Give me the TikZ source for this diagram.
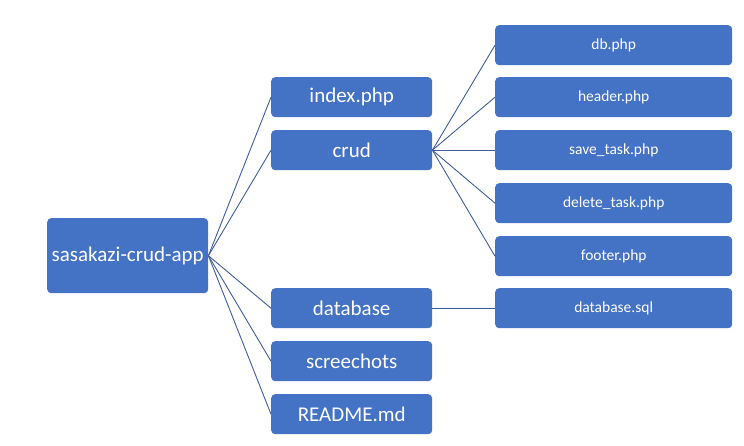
\documentclass[tikz,border=0pt]{standalone}
\usepackage{fontspec}
\setmainfont{Carlito}
\begin{document}
\begin{tikzpicture}[x=1pt,y=-1pt,
  box/.style={draw=none,fill=boxblue,rounded corners=4pt,text=white,inner sep=0pt,anchor=north west},
  lvone/.style={box,minimum width=161pt,minimum height=40pt,font=\fontsize{21}{24}\selectfont},
  lvtwo/.style={box,minimum width=237pt,minimum height=40pt,font=\fontsize{15.5}{18}\selectfont},
  link/.style={draw=lineblue,line width=0.9pt}]
\definecolor{boxblue}{HTML}{4472C4}
\definecolor{lineblue}{HTML}{3F5C9A}
\useasboundingbox (0,0) rectangle (744,445);
\node[box,minimum width=161pt,minimum height=75pt,font=\fontsize{21}{24}\selectfont] (root) at (47,218) {sasakazi-crud-app};
\node[lvone] (index) at (271,77) {index.php};
\node[lvone] (crud) at (271,130) {crud};
\node[lvone] (database) at (271,288) {database};
\node[lvone] (shots) at (271,341) {screechots};
\node[lvone] (readme) at (271,394) {README.md};
\node[lvtwo] (db) at (495,25) {db.php};
\node[lvtwo] (header) at (495,77) {header.php};
\node[lvtwo] (save) at (495,130) {save\_task.php};
\node[lvtwo] (delete) at (495,183) {delete\_task.php};
\node[lvtwo] (footer) at (495,236) {footer.php};
\node[lvtwo] (dbsql) at (495,288) {database.sql};
\foreach \n in {index,crud,database,shots,readme}
  \draw[link] (root.east) -- (\n.west);
\foreach \n in {db,header,save,delete,footer}
  \draw[link] (crud.east) -- (\n.west);
\draw[link] (database.east) -- (dbsql.west);
\end{tikzpicture}
\end{document}
